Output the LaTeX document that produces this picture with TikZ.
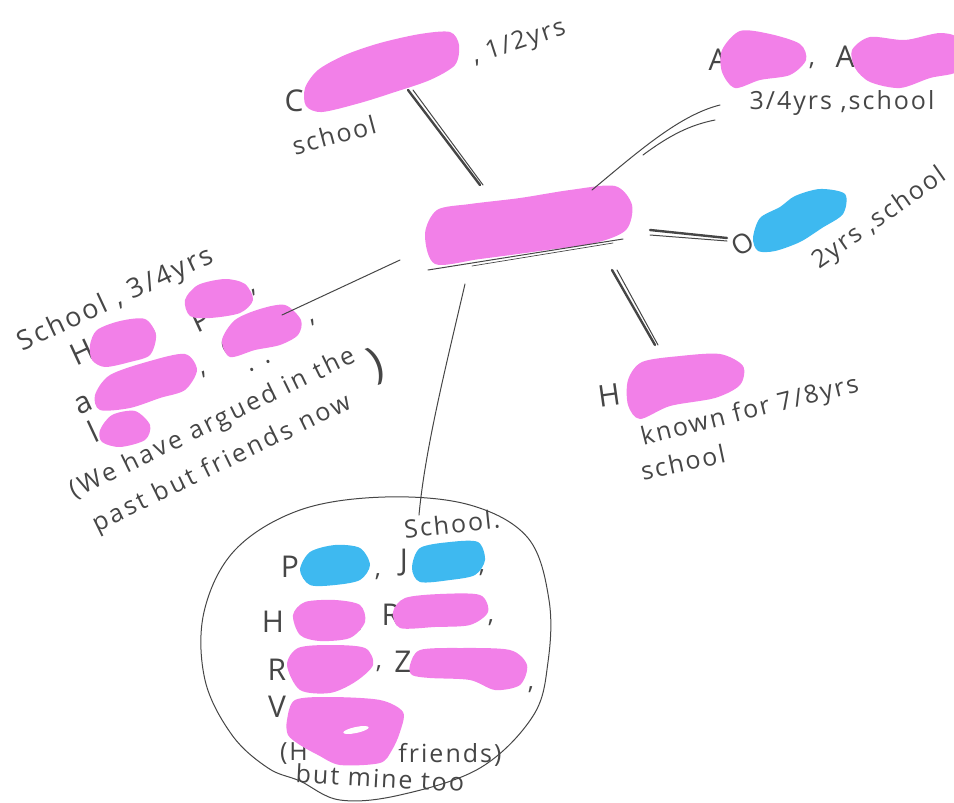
\documentclass[tikz,border=0pt]{standalone}
\usepackage{fontspec}
\setmainfont{Open Sans}
\definecolor{pinkc}{RGB}{242,128,232}
\definecolor{bluec}{RGB}{62,185,240}
\definecolor{ink}{RGB}{70,70,70}
\begin{document}
\begin{tikzpicture}[x=1pt,y=-1pt,
  hand/.style={text=ink, font=\fontsize{25}{28}\selectfont\addfontfeature{LetterSpace=8}, inner sep=0pt},
  bighand/.style={text=ink, font=\fontsize{27}{30}\selectfont\addfontfeature{LetterSpace=9}, inner sep=0pt},
  notehand/.style={text=ink, font=\fontsize{25}{28}\selectfont\addfontfeature{LetterSpace=11}, inner sep=0pt},
  initial/.style={text=ink, font=\fontsize{30}{32}\selectfont, inner sep=0pt},
  pblob/.style={fill=pinkc, draw=none},
  bblob/.style={fill=bluec, draw=none},
  pen/.style={draw=ink, line width=1pt, line cap=round},
  heavypen/.style={draw=ink, line width=2.4pt, line cap=round}]
\useasboundingbox (0,0) rectangle (954,803);
\clip (0,0) rectangle (954,803);

% ---------- connector end points ----------
\coordinate (topA) at (408,90);  \coordinate (topB) at (480,185);
\coordinate (trA) at (592,190);  \coordinate (trB) at (720,105);
\coordinate (trC) at (643,155);  \coordinate (trD) at (715,120);
\coordinate (rA) at (650,230);   \coordinate (rB) at (727,238);
\coordinate (lrA) at (612,270);  \coordinate (lrB) at (655,345);
\coordinate (lA) at (400,260);   \coordinate (lB) at (282,315);
\coordinate (bA) at (465,284);   \coordinate (bB) at (419,515);
\coordinate (u1A) at (428,270);  \coordinate (u1B) at (623,239);
\coordinate (u2A) at (472,266);  \coordinate (u2B) at (613,243);

% ---------- top node ----------
\node[initial] (tC) at (294,101) {C};
\node[hand, rotate=18] (tyrs) at (519,43) {, 1/2yrs};
\node[hand, rotate=15] (tschool) at (334,135) {school};
\fill[pblob] plot[smooth cycle] coordinates {(305,88) (318,70) (345,55) (380,43) (420,34) (450,32) (459,45) (455,65) (430,80) (395,92) (360,103) (322,112) (306,106)};

% ---------- top right node ----------
\node[initial] (trA1) at (718,60) {A};
\node[hand] (trcomma) at (812,66) {,};
\node[initial] (trA2) at (845,57) {A};
\node[hand] (tryrs) at (842,103) {3/4yrs ,school};
\fill[pblob] plot[smooth cycle] coordinates {(722,50) (740,31) (770,34) (800,44) (806,60) (790,75) (760,80) (735,88) (722,72)};
\fill[pblob] plot[smooth cycle] coordinates {(852,50) (870,37) (905,40) (940,33) (960,40) (960,70) (930,78) (900,88) (870,82) (855,68)};

% ---------- right node ----------
\node[text=ink, font=\fontsize{27}{28}\selectfont, inner sep=0pt, rotate=30] (rO) at (743,244) {O};
\fill[bblob] plot[smooth cycle] coordinates {(753,238) (760,218) (780,207) (795,196) (820,189) (845,194) (843,214) (822,228) (800,242) (775,251) (758,251)};
\node[hand, rotate=35] (ryrs) at (880,219) {2yrs ,school};

% ---------- lower right node ----------
\node[initial, rotate=8] (lrH) at (609,395) {H};
\fill[pblob] plot[smooth cycle] coordinates {(628,380) (642,362) (680,356) (720,354) (743,366) (740,385) (715,398) (670,406) (640,419) (628,405)};
\node[hand, rotate=14] (lrknown) at (750,412) {known for 7/8yrs};
\node[hand, rotate=12] (lrschool) at (683,462) {school};

% ---------- central node ----------
\fill[pblob] plot[smooth cycle] coordinates {(425,234) (437,210) (470,204) (520,198) (570,190) (615,186) (632,205) (626,230) (595,243) (540,251) (480,259) (435,264)};

% ---------- left node ----------
\node[bighand, rotate=25] (lschool) at (116,300) {School , 3/4yrs};
\node[initial, rotate=25] (lH) at (82,352) {H};
\node[hand, rotate=25] (lc1) at (155,334) {,};
\node[initial, rotate=25] (lP) at (201,320) {P};
\node[hand, rotate=25] (lc2) at (254,292) {,};
\node[initial, rotate=25] (lC) at (231,346) {C};
\node[hand, rotate=25] (lc3) at (313,322) {,};
\node[initial, rotate=25] (la) at (84,405) {a};
\node[hand, rotate=25] (lc4) at (204,374) {,};
\node[hand, rotate=25] (ldots) at (260,366) {. .};
\node[initial, rotate=25] (ll) at (93,432) {l};
\fill[pblob] plot[smooth cycle] coordinates {(90,345) (97,330) (120,321) (145,319) (156,335) (150,355) (130,362) (105,367) (92,360)};
\fill[pblob] plot[smooth cycle] coordinates {(185,300) (198,285) (225,279) (245,284) (253,300) (240,313) (210,318) (190,316)};
\fill[pblob] plot[smooth cycle] coordinates {(222,340) (235,320) (260,309) (285,305) (301,320) (298,335) (280,345) (255,350) (230,357)};
\fill[pblob] plot[smooth cycle] coordinates {(95,395) (110,375) (150,361) (185,354) (197,370) (185,390) (160,398) (130,408) (100,410)};
\fill[pblob] plot[smooth cycle] coordinates {(100,430) (112,415) (135,411) (150,425) (145,440) (120,447) (102,442)};
\node[notehand, rotate=26] (larg1) at (213,424) {(We have argued in the};
\node[notehand, rotate=26] (larg2) at (222,464) {past but friends now};
\node[text=ink, font=\fontsize{44}{46}\selectfont, inner sep=0pt, rotate=20] (lparen) at (376,366) {)};

% ---------- bottom node ----------
\draw[pen] plot[smooth cycle, tension=0.6] coordinates {(385,497) (470,505) (528,538) (549,600) (548,662) (533,716) (480,768) (400,795) (340,800) (300,781) (268,768) (232,735) (205,680) (204,612) (235,550) (300,510)};
\node[hand, rotate=6] (bschool) at (452,524) {School.};
\node[initial] (bP) at (290,567) {P};
\node[hand] (bc1) at (378,577) {,};
\node[initial] (bJ) at (404,563) {J};
\node[hand] (bc2) at (482,573) {,};
\node[initial] (bH) at (273,622) {H};
\node[hand] (bc3) at (361,628) {,};
\node[initial] (bR) at (391,615) {R};
\node[hand] (bc4) at (491,623) {,};
\node[initial] (bR2) at (277,670) {R};
\node[hand] (bc5) at (379,669) {,};
\node[initial] (bZ) at (403,662) {Z};
\node[hand] (bc6) at (531,690) {,};
\node[initial] (bV) at (277,707) {V};
\node[hand] (bH2) at (294,754) {(H};
\node[hand] (bfr) at (450,755) {friends)};
\node[hand, rotate=-3] (bmine) at (380,778) {but mine too};
\fill[bblob] plot[smooth cycle] coordinates {(300,570) (310,552) (335,545) (360,548) (370,565) (360,580) (335,585) (310,585)};
\fill[bblob] plot[smooth cycle] coordinates {(412,568) (420,548) (450,542) (478,542) (485,560) (475,575) (450,580) (420,582)};
\fill[pblob] plot[smooth cycle] coordinates {(293,615) (305,602) (335,600) (360,605) (365,622) (350,638) (320,641) (300,635)};
\fill[pblob] plot[smooth cycle] coordinates {(393,612) (405,598) (440,594) (480,595) (488,612) (470,625) (435,627) (400,628)};
\fill[pblob] plot[smooth cycle] coordinates {(287,665) (298,648) (330,645) (365,648) (373,665) (355,682) (330,693) (300,690)};
\fill[pblob] plot[smooth cycle] coordinates {(410,665) (420,650) (460,648) (510,650) (527,665) (520,685) (495,690) (470,680) (430,678) (412,675)};
\fill[pblob] plot[smooth cycle] coordinates {(287,720) (295,700) (330,697) (380,700) (403,712) (400,732) (392,750) (380,763) (340,765) (318,755) (300,745) (288,735)};
\fill[white, rotate around={12:(356,730)}] (356,730) ellipse (13 and 3);

% ---------- connectors ----------
\draw[heavypen] (topA) -- (topB);
\draw[pen] ([xshift=5pt]topA) -- ([xshift=3pt]topB);
\draw[pen] (trA) .. controls (640,150) and (680,115) .. (trB);
\draw[pen] (trC) .. controls (670,135) and (690,125) .. (trD);
\draw[heavypen] (rA) -- (rB);
\draw[pen] ([yshift=-5pt]rA) -- ([yshift=-3pt]rB);
\draw[heavypen] (lrA) -- (lrB);
\draw[pen] ([xshift=5pt]lrA) -- ([xshift=3pt]lrB);
\draw[pen] (lA) -- (lB);
\draw[pen] (bA) .. controls (445,370) and (425,450) .. (bB);
\draw[pen] (u1A) -- (u1B);
\draw[pen, line width=0.7pt] (u2A) -- (u2B);
\end{tikzpicture}
\end{document}
